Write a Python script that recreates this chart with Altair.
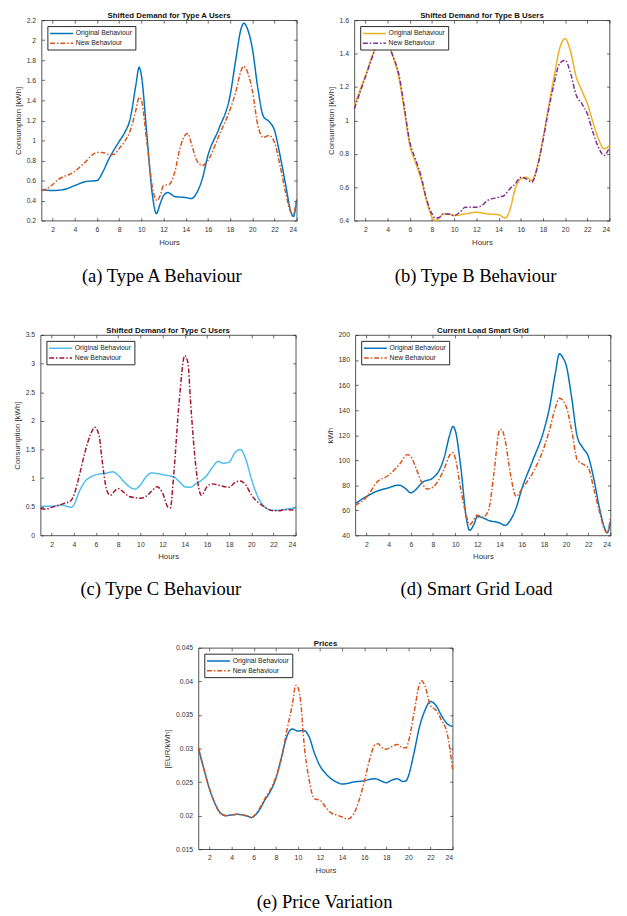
import altair as alt
import pandas as pd

SERIES = ["Original Behaviour", "New Behaviour"]
HOUR_TICKS = list(range(2, 25, 2))

# ---- Panel A: Type A users (kWh)
A_orig_h = [1, 2, 3, 4, 5, 6, 6.5, 7, 7.5, 8, 8.5, 9, 9.5, 9.8, 10, 10.5, 11, 11.35, 11.7, 12, 12.4, 13, 14, 14.5, 15, 15.5, 16, 17, 18, 18.5, 19, 19.25, 19.5, 20, 20.5, 21, 21.5, 22, 22.5, 23, 23.5, 23.7, 24]
A_orig_v = [0.51, 0.50, 0.51, 0.55, 0.59, 0.60, 0.68, 0.80, 0.90, 0.99, 1.08, 1.22, 1.55, 1.73, 1.65, 1.05, 0.45, 0.27, 0.37, 0.45, 0.48, 0.44, 0.43, 0.42, 0.48, 0.62, 0.85, 1.12, 1.45, 1.80, 2.12, 2.17, 2.13, 1.92, 1.52, 1.24, 1.19, 1.10, 0.85, 0.56, 0.28, 0.24, 0.41]
A_new_h = [1, 1.5, 2, 2.5, 3, 3.5, 4, 4.5, 5, 5.5, 6, 6.5, 7, 7.5, 8, 8.5, 9, 9.5, 9.8, 10, 10.5, 11, 11.4, 11.7, 12, 12.5, 13, 13.5, 14, 14.2, 14.5, 15, 15.5, 16, 17, 18, 18.5, 19, 19.2, 19.5, 20, 20.5, 21, 21.5, 22, 22.5, 23, 23.5, 23.7, 24]
A_new_v = [0.50, 0.52, 0.56, 0.61, 0.64, 0.66, 0.69, 0.74, 0.79, 0.85, 0.88, 0.88, 0.86, 0.86, 0.92, 0.99, 1.10, 1.30, 1.43, 1.40, 0.98, 0.53, 0.40, 0.45, 0.55, 0.56, 0.68, 0.93, 1.06, 1.07, 0.97, 0.80, 0.75, 0.80, 1.05, 1.31, 1.48, 1.70, 1.74, 1.70, 1.50, 1.15, 1.03, 1.05, 0.98, 0.75, 0.48, 0.28, 0.27, 0.41]

# ---- Panel B: Type B users (kWh)
B_orig_h = [1, 2, 3, 3.5, 4, 4.5, 5, 5.5, 6, 6.5, 7, 7.5, 8, 8.3, 8.7, 9, 9.5, 10, 11, 12, 13, 14, 14.6, 15, 15.5, 16, 16.5, 17, 17.5, 18, 18.5, 19, 19.5, 20, 20.5, 21, 21.5, 22, 22.5, 23, 23.5, 24]
B_orig_v = [1.09, 1.27, 1.45, 1.50, 1.47, 1.38, 1.26, 1.06, 0.85, 0.75, 0.65, 0.52, 0.42, 0.40, 0.42, 0.44, 0.44, 0.43, 0.44, 0.45, 0.44, 0.435, 0.415, 0.46, 0.59, 0.65, 0.66, 0.64, 0.73, 0.89, 1.08, 1.26, 1.43, 1.49, 1.41, 1.26, 1.18, 1.10, 0.99, 0.89, 0.83, 0.85]
B_new_h = [1, 2, 3, 3.5, 4, 4.5, 5, 5.5, 6, 6.5, 7, 7.5, 8, 8.3, 8.7, 9, 9.5, 10, 10.5, 11, 12, 12.5, 13, 14, 14.5, 15, 15.5, 16, 16.5, 17, 17.5, 18, 18.5, 19, 19.5, 20, 20.5, 21, 21.5, 22, 22.5, 23, 23.5, 24]
B_new_v = [1.07, 1.26, 1.44, 1.49, 1.46, 1.38, 1.28, 1.08, 0.87, 0.77, 0.67, 0.53, 0.44, 0.415, 0.42, 0.44, 0.44, 0.43, 0.45, 0.48, 0.48, 0.49, 0.52, 0.54, 0.55, 0.59, 0.62, 0.66, 0.65, 0.63, 0.72, 0.88, 1.06, 1.22, 1.34, 1.36, 1.28, 1.15, 1.10, 1.04, 0.93, 0.84, 0.79, 0.84]

# ---- Panel C: Type C users (kWh)
C_orig_h = [1, 2, 3, 3.5, 3.8, 4, 4.5, 5, 5.5, 6, 7, 7.5, 8, 8.5, 9, 9.5, 10, 10.5, 11, 11.5, 12, 13, 13.5, 14, 14.5, 15, 16, 16.5, 17, 17.5, 18, 18.5, 19, 19.5, 20, 20.5, 21, 21.5, 22, 22.5, 23, 23.5, 24]
C_orig_v = [0.51, 0.51, 0.53, 0.50, 0.49, 0.53, 0.77, 0.94, 1.02, 1.06, 1.09, 1.11, 1.05, 0.94, 0.85, 0.81, 0.88, 1.02, 1.09, 1.08, 1.06, 1.02, 0.94, 0.85, 0.84, 0.90, 1.05, 1.19, 1.29, 1.26, 1.28, 1.44, 1.50, 1.33, 0.99, 0.71, 0.54, 0.46, 0.44, 0.44, 0.45, 0.47, 0.47]
C_new_h = [1, 1.5, 2, 3, 3.7, 4, 4.5, 5, 5.5, 5.9, 6.3, 6.5, 7, 7.3, 7.7, 8, 8.5, 9, 10, 10.5, 11, 11.5, 12, 12.5, 12.7, 13, 13.5, 14, 14.3, 14.5, 15, 15.5, 16, 16.5, 17, 18, 18.5, 19, 19.5, 20, 21, 22, 22.5, 23, 24]
C_new_v = [0.47, 0.46, 0.49, 0.55, 0.60, 0.70, 1.05, 1.45, 1.76, 1.89, 1.72, 1.39, 0.77, 0.70, 0.78, 0.82, 0.75, 0.68, 0.65, 0.68, 0.77, 0.85, 0.74, 0.49, 0.48, 1.05, 2.35, 3.14, 3.00, 2.40, 1.20, 0.70, 0.85, 0.90, 0.88, 0.84, 0.92, 0.95, 0.88, 0.71, 0.52, 0.43, 0.43, 0.45, 0.44]

# ---- Panel D: smart grid load (kWh)
D_orig_h = [1, 2, 3, 4, 4.8, 5, 5.5, 6, 6.5, 7, 8, 8.5, 9, 9.5, 9.8, 10, 10.5, 11, 11.3, 11.7, 12, 12.5, 13, 14, 14.5, 15, 15.5, 16, 17, 18, 18.5, 19, 19.4, 19.7, 20, 20.5, 21, 21.5, 22, 22.5, 23, 23.5, 23.7, 24]
D_orig_v = [65.5, 71, 75.5, 78, 80, 80, 77.5, 74, 77, 82, 86, 91, 102, 120, 127, 124, 95, 54, 44, 49, 55, 54, 52, 50, 48, 52.5, 62, 77, 100, 124, 142, 168, 185, 182, 176, 150, 119, 110, 103, 85, 62, 45, 42, 51]
D_new_h = [1, 2, 3, 4, 5, 5.7, 6, 6.5, 7, 7.5, 8, 8.5, 9, 9.5, 9.8, 10, 10.5, 11, 11.3, 12, 12.5, 13, 13.5, 14, 14.2, 14.5, 15, 15.5, 16, 17, 18, 18.5, 19, 19.4, 20, 20.5, 21, 21.5, 22, 22.5, 23, 23.5, 23.7, 24]
D_new_v = [64, 70.5, 83, 88, 97, 104.5, 103, 93, 82, 77, 78.5, 84, 93, 104, 106, 102, 77, 56, 48.5, 56, 54.5, 60, 90, 124, 124.5, 116, 88, 71, 77, 90, 110, 124, 141, 149.5, 143, 124, 100.5, 97, 94, 77, 59, 44, 42.5, 54]

# ---- Panel E: prices (EUR/kWh)
E_orig_h = [1, 1.5, 2, 2.5, 3, 3.5, 4, 4.5, 5, 5.5, 5.8, 6, 6.5, 7, 7.5, 8, 8.5, 9, 9.5, 10, 10.5, 11, 11.5, 12, 12.5, 13, 13.5, 14, 14.5, 15, 16, 16.5, 17, 17.5, 18, 18.5, 19, 19.5, 19.8, 20, 20.5, 21, 21.5, 22, 22.5, 23, 23.5, 24]
E_orig_v = [0.0301, 0.0269, 0.0240, 0.0218, 0.0204, 0.0200, 0.0201, 0.0202, 0.0201, 0.0199, 0.0197, 0.0199, 0.0208, 0.0223, 0.0236, 0.0255, 0.0286, 0.0318, 0.0329, 0.0326, 0.0327, 0.0318, 0.0293, 0.0274, 0.0263, 0.0255, 0.0250, 0.0247, 0.0248, 0.0250, 0.0252, 0.0254, 0.0255, 0.0252, 0.0249, 0.0253, 0.0255, 0.0251, 0.0252, 0.0259, 0.0293, 0.0332, 0.0357, 0.0370, 0.0364, 0.0349, 0.0337, 0.0333]
E_new_h = [1, 1.5, 2, 2.5, 3, 3.5, 4, 4.5, 5, 5.5, 5.8, 6, 6.5, 7, 7.5, 8, 8.5, 9, 9.5, 9.8, 10, 10.3, 10.5, 11, 11.5, 12, 12.5, 13, 13.5, 14, 14.5, 15, 15.5, 16, 16.5, 17, 17.3, 17.5, 18, 18.5, 19, 19.5, 19.8, 20, 20.5, 21, 21.2, 21.5, 22, 22.5, 23, 23.5, 24]
E_new_v = [0.0301, 0.0269, 0.0240, 0.0218, 0.0203, 0.0200, 0.0201, 0.0202, 0.0201, 0.0199, 0.0197, 0.0199, 0.0210, 0.0225, 0.0238, 0.0257, 0.0284, 0.0327, 0.0366, 0.0394, 0.0391, 0.0362, 0.0318, 0.0255, 0.0225, 0.0223, 0.0213, 0.0204, 0.0201, 0.0198, 0.0195, 0.0201, 0.0221, 0.0250, 0.0284, 0.0306, 0.0307, 0.0303, 0.0299, 0.0303, 0.0306, 0.0301, 0.0301, 0.0310, 0.0352, 0.0396, 0.0401, 0.0393, 0.0364, 0.0357, 0.0342, 0.0323, 0.0269]

# ---- axis ticks
A_ticks = [0.2, 0.4, 0.6, 0.8, 1.0, 1.2, 1.4, 1.6, 1.8, 2.0, 2.2]
B_ticks = [0.4, 0.6, 0.8, 1.0, 1.2, 1.4, 1.6]
C_ticks = [0, 0.5, 1, 1.5, 2, 2.5, 3, 3.5]
D_ticks = [40, 60, 80, 100, 120, 140, 160, 180, 200]
E_ticks = [0.015, 0.02, 0.025, 0.03, 0.035, 0.04, 0.045]

BLUE, ORANGE, YELLOW, PURPLE, CYAN, RED = "#0072BD", "#D95319", "#EDB120", "#7E2F8E", "#4DBEEE", "#A2142F"

SANS = "Liberation Sans"
SERIF = "Liberation Serif"
DASHES = [[1, 0], [5, 2, 1.5, 2]]
SYMBOL = "M-1.35,0H5.35"


def make_df(h1, v1, h2, v2):
    return pd.DataFrame({
        "hour": h1 + h2,
        "value": v1 + v2,
        "series": [SERIES[0]] * len(h1) + [SERIES[1]] * len(h2),
    })


def panel(df, title, ytitle, ydomain, yticks, yfmt, colors, caption, cap_x, cap_dy, w, h):
    xs = alt.Scale(domain=[1, 24], nice=False, zero=False)
    ys = alt.Scale(domain=ydomain, nice=False, zero=False)
    leg = alt.Legend(title=None, orient="top-left", offset=6, padding=3,
                     symbolType=SYMBOL, symbolSize=49, symbolStrokeWidth=1.5,
                     labelOffset=17, rowPadding=2, labelFontSize=7, labelFont=SANS,
                     labelColor="#222222", strokeColor="#262626", fillColor="white")
    color = alt.Color("series:N", scale=alt.Scale(domain=SERIES, range=colors), legend=leg)
    dash = alt.StrokeDash("series:N", scale=alt.Scale(domain=SERIES, range=DASHES), legend=leg)
    base = alt.Chart(df)
    orig = base.transform_filter(alt.datum.series == SERIES[0]).mark_line(
        interpolate="monotone", strokeWidth=1.5).encode(
        x=alt.X("hour:Q", scale=xs, axis=alt.Axis(orient="bottom", values=HOUR_TICKS, title="Hours")),
        y=alt.Y("value:Q", scale=ys, axis=alt.Axis(orient="left", values=yticks, format=yfmt, title=ytitle)),
        color=color, strokeDash=dash)
    new = base.transform_filter(alt.datum.series == SERIES[1]).mark_line(
        interpolate="monotone", strokeWidth=1.5).encode(
        x=alt.X("hour:Q", scale=xs, axis=None),
        y=alt.Y("value:Q", scale=ys, axis=None),
        color=color, strokeDash=dash)
    mirror = base.mark_line(opacity=0).encode(
        x=alt.X("hour:Q", scale=xs, axis=alt.Axis(orient="top", values=HOUR_TICKS, labels=False,
                                                  title=None, minExtent=0, maxExtent=0)),
        y=alt.Y("value:Q", scale=ys, axis=alt.Axis(orient="right", values=yticks, labels=False,
                                                   title=None, minExtent=0, maxExtent=0)),
    )
    cap = alt.Chart(pd.DataFrame({"t": [caption]})).mark_text(
        font=SERIF, fontSize=19, align="center", baseline="alphabetic", color="black"
    ).encode(text="t:N", x=alt.value(cap_x), y=alt.value(h + cap_dy))
    return alt.layer(orig, new, mirror, cap).resolve_axis(x="independent", y="independent").properties(
        width=w, height=h,
        title=alt.TitleParams(title, frame="group", anchor="middle"),
    )


pA = panel(make_df(A_orig_h, A_orig_v, A_new_h, A_new_v), "Shifted Demand for Type A Users",
           "Consumption [kWh]", [0.2, 2.2], A_ticks, ".1~f", [BLUE, ORANGE],
           "(a) Type A Behaviour", 123, 63, 261, 205)
pB = panel(make_df(B_orig_h, B_orig_v, B_new_h, B_new_v), "Shifted Demand for Type B Users",
           "Consumption [kWh]", [0.4, 1.6], B_ticks, ".1~f", [YELLOW, PURPLE],
           "(b) Type B Behaviour", 124, 63, 261, 205)
pC = panel(make_df(C_orig_h, C_orig_v, C_new_h, C_new_v), "Shifted Demand for Type C Users",
           "Consumption [kWh]", [0, 3.5], C_ticks, ".1~f", [CYAN, RED],
           "(c) Type C Behaviour", 123, 61, 261, 205)
pD = panel(make_df(D_orig_h, D_orig_v, D_new_h, D_new_v), "Current Load Smart Grid",
           "kWh", [40, 200], D_ticks, "d", [BLUE, ORANGE],
           "(d) Smart Grid Load", 124, 61, 261, 205)
pE = panel(make_df(E_orig_h, E_orig_v, E_new_h, E_new_v), "Prices",
           "[EUR/kWh]", [0.015, 0.045], E_ticks, ".3~f", [BLUE, ORANGE],
           "(e) Price Variation", 129, 60, 260, 206)

row1 = alt.hconcat(pA, pB, spacing=26).resolve_scale(color="independent", strokeDash="independent")
row2 = alt.hconcat(pC, pD, spacing=26).resolve_scale(color="independent", strokeDash="independent")

chart = alt.vconcat(row1, row2, pE, spacing=40, center=True).resolve_scale(
    color="independent", strokeDash="independent"
).properties(
    padding={"left": 5, "top": -7, "right": 5, "bottom": 0}
).configure_view(
    stroke="#262626", strokeWidth=0.8
).configure_axis(
    domain=False, grid=False, ticks=True, tickSize=3, tickColor="#262626", tickWidth=0.7,
    offset=-3, labelFont=SANS, labelFontSize=7, labelColor="#333333",
    titleFont=SANS, titleFontSize=8, titleFontWeight="normal", titleColor="#333333",
).configure_axisX(
    labelPadding=5, titlePadding=6
).configure_axisY(
    labelPadding=6, titlePadding=4
).configure_title(
    font=SANS, fontSize=8, fontWeight="bold", color="#111111", offset=-4
)

chart.save("out.html", embed_options={"renderer": "svg", "actions": False})
